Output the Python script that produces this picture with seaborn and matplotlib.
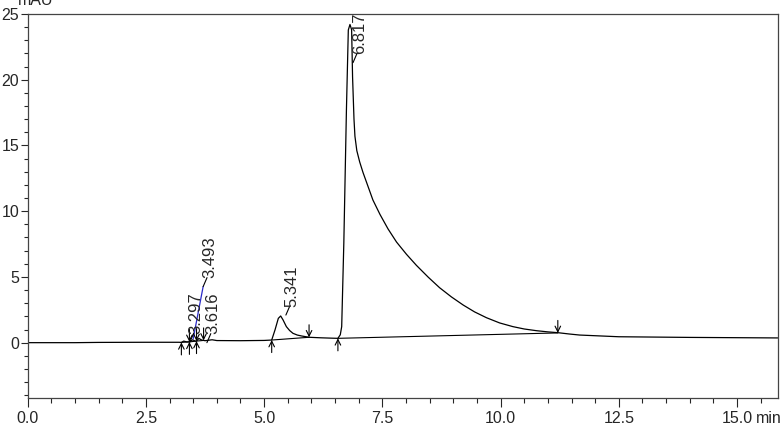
import matplotlib
matplotlib.use("Agg")
import matplotlib.pyplot as plt
from matplotlib.ticker import MultipleLocator, FormatStrFormatter
import seaborn as sns

sns.set_style("ticks")
plt.rcParams['font.family'] = ['Liberation Sans', 'DejaVu Sans']

# chromatogram trace (min, mAU)
time = [0.0, 1.0, 1.5, 2.5, 3.2, 3.25, 3.30, 3.36, 3.42, 3.49, 3.54, 3.57, 3.62,
        3.68, 3.75, 3.9, 4.0, 4.5, 5.0, 5.16, 5.23, 5.30, 5.35, 5.40, 5.47, 5.54,
        5.61, 5.70, 5.79, 5.95, 6.20, 6.45, 6.56, 6.61, 6.64, 6.685, 6.74, 6.78,
        6.815, 6.85, 6.87, 6.90, 6.92, 6.96, 7.02, 7.09, 7.17, 7.30, 7.45, 7.62,
        7.80, 8.01, 8.22, 8.47, 8.71, 8.96, 9.21, 9.45, 9.70, 9.98, 10.26, 10.5,
        10.76, 11.0, 11.21, 11.45, 11.67, 12.5, 14.0, 15.86]
signal = [0.0, 0.0, 0.02, 0.03, 0.03, 0.02, 0.12, 0.06, 0.06, 0.22, 0.12, 0.12, 0.32,
          0.2, 0.15, 0.22, 0.16, 0.15, 0.17, 0.2, 0.97, 1.85, 2.03, 1.73, 1.22, 0.92,
          0.71, 0.58, 0.51, 0.41, 0.37, 0.34, 0.33, 0.6, 1.22, 7.58, 17.7, 23.78,
          24.2, 23.8, 20.2, 17.0, 15.7, 14.6, 13.75, 12.95, 12.15, 10.85, 9.75, 8.65,
          7.65, 6.72, 5.88, 4.98, 4.18, 3.48, 2.86, 2.34, 1.90, 1.50, 1.22, 1.04,
          0.91, 0.82, 0.76, 0.66, 0.58, 0.45, 0.40, 0.36]

# peak labels
peak_rt = ["3.297", "3.493", "3.616", "5.341", "6.817"]
label_t = [3.43, 3.71, 3.79, 5.46, 6.88]
label_y = [0.05, 4.26, 0.0, 2.1, 21.3]

# leader line of the displaced 3.493 label
leader_t = [3.50, 3.71]
leader_y = [0.3, 4.26]

# integration start / end marks
start_t = [3.25, 3.42, 3.57, 5.16, 6.56]
start_y = [0.02, 0.06, 0.12, 0.2, 0.33]
end_t = [3.42, 3.57, 3.72, 5.95, 11.21]
end_y = [0.06, 0.12, 0.17, 0.41, 0.74]

fig = plt.figure(figsize=(7.84, 4.36), dpi=100)
ax = fig.add_axes([0.0353, 0.0865, 0.9567, 0.8815])

sns.lineplot(x=time, y=signal, estimator=None, sort=False, color="black",
             lw=0.9, ax=ax)

# baselines
for i in range(len(start_t)):
    ax.plot([start_t[i], end_t[i]], [start_y[i], end_y[i]], color="black", lw=0.8)

arrow = dict(arrowstyle="->", lw=0.8, color="black", shrinkA=0, shrinkB=0,
             mutation_scale=10)
for t, y in zip(start_t, start_y):
    ax.annotate("", xy=(t, y), xytext=(0, -9), textcoords="offset points",
                arrowprops=arrow)
for t, y in zip(end_t, end_y):
    ax.annotate("", xy=(t, y), xytext=(0, 9), textcoords="offset points",
                arrowprops=arrow)

ax.plot(leader_t, leader_y, color="#2a2ac8", lw=0.9)

for rt, t, y in zip(peak_rt, label_t, label_y):
    ax.annotate("", xy=(t, y), xytext=(2.8, 6.5), textcoords="offset points",
                arrowprops=dict(arrowstyle="-", lw=0.8, color="black",
                                shrinkA=0, shrinkB=0))
    ax.annotate(rt, xy=(t, y), xytext=(-0.8, 6.0), textcoords="offset points",
                rotation=90, ha="left", va="bottom", fontsize=12)

ax.set_xlim(0, 15.86)
ax.set_ylim(-4.23, 25)
ax.xaxis.set_major_locator(MultipleLocator(2.5))
ax.xaxis.set_minor_locator(MultipleLocator(0.5))
ax.xaxis.set_major_formatter(FormatStrFormatter("%.1f"))
ax.yaxis.set_major_locator(MultipleLocator(5))
ax.yaxis.set_minor_locator(MultipleLocator(1))
ax.tick_params(axis="x", which="major", length=6.5, width=0.8, pad=2.5, labelsize=11.5)
ax.tick_params(axis="x", which="minor", length=3.6, width=0.8)
ax.tick_params(axis="y", which="major", length=5, width=0.8, pad=1.2, labelsize=11.5)
ax.tick_params(axis="y", which="minor", length=2.9, width=0.8)
for s in ax.spines.values():
    s.set_visible(True)
    s.set_color("#444444")
    s.set_linewidth(0.9)
ax.set_xlabel("")
ax.set_ylabel("")

fig.text(756 / 784, 0.0305, "min", va="baseline", ha="left", fontsize=11.5)
fig.text(18 / 784, 1 - 5 / 436, "mAU", va="baseline", ha="left", fontsize=11.5)

fig.savefig("out.png", dpi=100)
